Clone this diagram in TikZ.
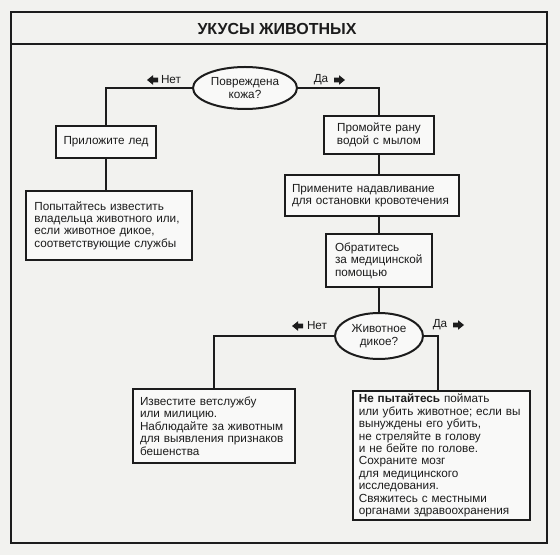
\documentclass[tikz,border=0pt]{standalone}
\usepackage{fontspec}
\setmainfont{Liberation Sans}
\usetikzlibrary{calc,shapes.geometric}
\definecolor{bg}{RGB}{242,242,239}
\definecolor{ink}{RGB}{28,28,28}
\begin{document}
\begin{tikzpicture}[x=0.75pt,y=-0.75pt,
  txt/.style={font=\fontsize{8.8}{9.3}\selectfont, text=ink},
  box/.style={txt, draw=ink, line width=1.5pt, fill=white!55!bg, inner ysep=0pt, align=left},
  qbox/.style={txt, draw=ink, line width=1.5pt, fill=white!55!bg, ellipse, inner sep=0pt, align=center},
  conn/.style={draw=ink, line width=1.3pt},
  lbl/.style={txt, inner sep=0pt},
  rarr/.pic={\fill[ink] (0,-2.3)--(5,-2.3)--(5,-4.8)--(11,0)--(5,4.8)--(5,2.3)--(0,2.3)--cycle;},
  larr/.pic={\fill[ink] (0,-2.3)--(-5,-2.3)--(-5,-4.8)--(-11,0)--(-5,4.8)--(-5,2.3)--(0,2.3)--cycle;}]
\useasboundingbox (0,0) rectangle (560,555);
\fill[bg] (0,0) rectangle (560,555);
% frame
\draw[ink, line width=0.9pt] (11,12) rectangle (547,543);
\draw[ink, line width=0.9pt] (11,44) -- (547,44);
\node[font=\bfseries\fontsize{12}{14}\selectfont, text=ink] (title) at (277,29) {УКУСЫ ЖИВОТНЫХ};

% first question
\node[qbox, minimum width=78pt, minimum height=31.5pt] (e1) at (245,88) {Повреждена\\кожа?};
\node[lbl] (no1) at (171,80) {Нет};
\pic at (158,80) {larr};
\node[lbl] (yes1) at (321,80) {Да};
\pic at (334,80) {rarr};

% left branch
\node[box, align=center, text width=67pt, inner xsep=4pt, minimum height=24pt] (a) at (106,142) {Приложите лед};
\node[box, text width=112pt, inner xsep=6pt, minimum height=51.75pt] (b) at (109,225.5) {Попытайтесь известить\\владельца животного или,\\если животное дикое,\\соответствующие службы};

% right branch
\node[box, align=center, text width=70.5pt, inner xsep=6pt, minimum height=28.5pt] (p) at (379,135) {Промойте рану\\водой с мылом};
\node[box, text width=120pt, inner xsep=5pt, minimum height=30.75pt] (n) at (372,195.5) {Примените надавливание\\для остановки кровотечения};
\node[box, text width=66pt, inner xsep=7pt, minimum height=39.75pt] (o) at (379,260.5) {Обратитесь\\за медицинской\\помощью};

% second question
\node[qbox, minimum width=66pt, minimum height=34.5pt] (e2) at (379,336) {Животное\\дикое?};
\node[lbl] (no2) at (317,326) {Нет};
\pic at (303,326) {larr};
\node[lbl] (yes2) at (440,325) {Да};
\pic at (453,325) {rarr};

\node[box, text width=111pt, inner xsep=5.5pt, minimum height=55.5pt] (c) at (214,426) {Известите ветслужбу\\или милицию.\\Наблюдайте за животным\\для выявления признаков\\бешенства};
\node[box, text width=124pt, inner xsep=4.5pt, minimum height=96.75pt] (d) at (441.5,455.5) {\textbf{Не пытайтесь} поймать\\или убить животное; если вы\\вынуждены его убить,\\не стреляйте в голову\\и не бейте по голове.\\Сохраните мозг\\для медицинского\\исследования.\\Свяжитесь с местными\\органами здравоохранения};

% connectors
\draw[conn] (e1.west) -| (a.north);
\draw[conn] (a.south) -- (a.south |- b.north);
\draw[conn] (e1.east) -| (p.north);
\draw[conn] (p.south) -- (p.south |- n.north);
\draw[conn] (p.south |- n.south) -- (o.north);
\draw[conn] (o.south) -- (e2.north);
\draw[conn] (e2.west) -| (c.north);
\draw[conn] (e2.east) -| ($(d.north)+(-3.5,0)$);
\end{tikzpicture}
\end{document}
